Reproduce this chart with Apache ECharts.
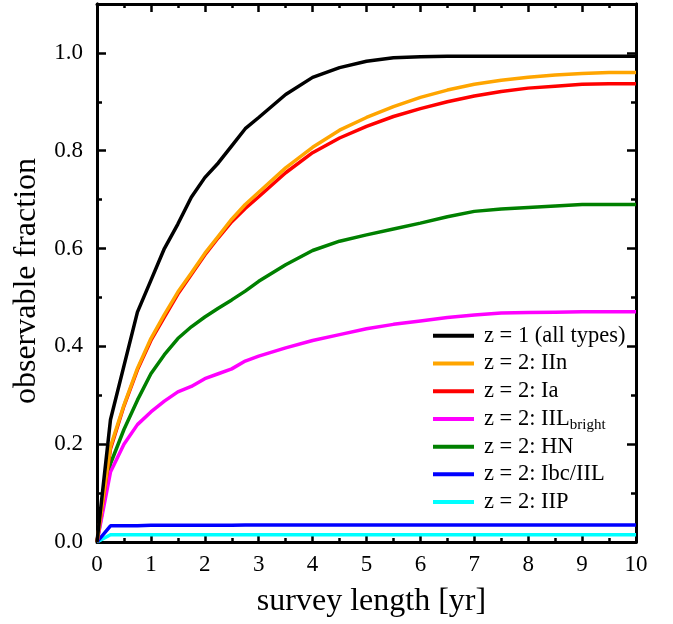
<!DOCTYPE html>
<html><head><meta charset="utf-8">
<script src="https://cdn.jsdelivr.net/npm/echarts@6/dist/echarts.min.js"></script>
<style>html,body{margin:0;padding:0;background:#fff}#c{width:673px;height:624px}</style>
</head><body><div id="c"></div>
<script>
// survey length [yr]
var years = [0, 0.25, 0.5, 0.75, 1, 1.25, 1.5, 1.75, 2, 2.25, 2.5, 2.75, 3, 3.5, 4, 4.5, 5, 5.5, 6, 6.5, 7, 7.5, 8, 8.5, 9, 9.5, 10];
var z1All   = [0, 0.25, 0.36, 0.47, 0.535, 0.60, 0.65, 0.705, 0.745, 0.775, 0.81, 0.845, 0.868, 0.915, 0.95, 0.97, 0.983, 0.99, 0.992, 0.993, 0.993, 0.993, 0.993, 0.993, 0.993, 0.993, 0.993];
var z2IIn   = [0, 0.195, 0.28, 0.355, 0.416, 0.465, 0.511, 0.55, 0.59, 0.625, 0.66, 0.69, 0.715, 0.765, 0.807, 0.842, 0.868, 0.89, 0.909, 0.924, 0.936, 0.944, 0.95, 0.955, 0.958, 0.96, 0.96];
var z2Ia    = [0, 0.19, 0.278, 0.352, 0.412, 0.46, 0.507, 0.547, 0.587, 0.622, 0.655, 0.682, 0.706, 0.755, 0.796, 0.826, 0.85, 0.87, 0.886, 0.9, 0.912, 0.921, 0.928, 0.932, 0.936, 0.937, 0.937];
var z2IILb  = [0, 0.143, 0.2, 0.24, 0.266, 0.288, 0.307, 0.318, 0.334, 0.344, 0.354, 0.37, 0.38, 0.397, 0.412, 0.424, 0.436, 0.445, 0.452, 0.459, 0.464, 0.468, 0.469, 0.47, 0.471, 0.471, 0.471];
var z2HN    = [0, 0.16, 0.23, 0.29, 0.344, 0.383, 0.416, 0.44, 0.46, 0.478, 0.495, 0.513, 0.533, 0.567, 0.596, 0.615, 0.628, 0.64, 0.652, 0.665, 0.676, 0.681, 0.684, 0.687, 0.69, 0.69, 0.69];
var z2IbcIIL= [0, 0.033, 0.033, 0.033, 0.034, 0.034, 0.034, 0.034, 0.034, 0.034, 0.034, 0.035, 0.035, 0.035, 0.035, 0.035, 0.035, 0.035, 0.035, 0.035, 0.035, 0.035, 0.035, 0.035, 0.035, 0.035, 0.035];
var z2IIP   = [0, 0.015, 0.015, 0.015, 0.015, 0.015, 0.015, 0.015, 0.015, 0.015, 0.015, 0.015, 0.015, 0.015, 0.015, 0.015, 0.015, 0.015, 0.015, 0.015, 0.015, 0.015, 0.015, 0.015, 0.015, 0.015, 0.015];
var xTicks = [0, 1, 2, 3, 4, 5, 6, 7, 8, 9, 10];
var yTickLabels = ['0.0', '0.2', '0.4', '0.6', '0.8', '1.0'];

var seriesNames = ['z = 1 (all types)', 'z = 2: IIn', 'z = 2: Ia', 'z = 2: IILbright', 'z = 2: HN', 'z = 2: Ibc/IIL', 'z = 2: IIP'];
var seriesValues = [z1All, z2IIn, z2Ia, z2IILb, z2HN, z2IbcIIL, z2IIP];
var seriesColors = ['#000000', '#FFA500', '#FF0000', '#FF00FF', '#008000', '#0000FF', '#00FFFF'];
var drawOrder = [6, 5, 4, 3, 2, 1, 0];

function pairs(v) { return years.map(function (t, i) { return [t, v[i]]; }); }

var FONT = '"Liberation Serif", "Times New Roman", serif';
var series = drawOrder.map(function (k) {
  return {
    name: seriesNames[k], type: 'line', data: pairs(seriesValues[k]),
    xAxisIndex: 0, yAxisIndex: 0, showSymbol: false, symbol: 'none',
    lineStyle: { color: seriesColors[k], width: 3.5 }, itemStyle: { color: seriesColors[k] },
    z: 3, silent: true, animation: false
  };
});

function xAx(pos, labels) {
  return {
    type: 'value', position: pos, min: 0, max: 10, interval: 1,
    axisLine: { show: true, onZero: false, lineStyle: { color: '#000', width: 3 } },
    axisTick: { show: true, inside: true, length: 8, lineStyle: { color: '#000', width: 2.5 } },
    minorTick: { show: true, splitNumber: 2, length: 4, lineStyle: { color: '#000', width: 2.5 } },
    axisLabel: { show: labels, margin: 11, fontFamily: FONT, fontSize: 23, color: '#000',
      formatter: function (v) { return xTicks.indexOf(v) >= 0 ? String(v) : ''; } },
    splitLine: { show: false },
    name: labels ? 'survey length [yr]' : '', nameLocation: 'middle', nameGap: 44,
    nameTextStyle: { fontFamily: FONT, fontSize: 32, color: '#000', padding: [0, 0, 0, 10] }
  };
}
function yAx(pos, interval, len, labels) {
  return {
    type: 'value', position: pos, min: 0, max: 1.1, interval: interval, offset: 0,
    axisLine: { show: true, onZero: false, lineStyle: { color: '#000', width: 3 } },
    axisTick: { show: true, inside: true, length: len, lineStyle: { color: '#000', width: 2.5 } },
    axisLabel: { show: labels, margin: 14, fontFamily: FONT, fontSize: 23, color: '#000',
      formatter: function (v) { var i = Math.round(v / 0.2); return (Math.abs(v - i * 0.2) < 1e-6 && i < yTickLabels.length) ? yTickLabels[i] : ''; } },
    splitLine: { show: false },
    name: labels ? 'observable fraction' : '', nameLocation: 'middle', nameGap: 54,
    nameTextStyle: { fontFamily: FONT, fontSize: 32, color: '#000', padding: [0, 16, 0, 0] }
  };
}

var chart = echarts.init(document.getElementById('c'), null, { renderer: 'canvas' });
chart.setOption({
  animation: false,
  backgroundColor: '#fff',
  grid: { left: 97, right: 37, top: 4, bottom: 82, containLabel: false },
  xAxis: [xAx('bottom', true), xAx('top', false)],
  yAxis: [yAx('left', 0.2, 9, true), yAx('left', 0.1, 5, false), yAx('right', 0.2, 9, false), yAx('right', 0.1, 5, false)],
  legend: {
    orient: 'vertical', left: 428, top: 317, itemWidth: 41, itemHeight: 4, itemGap: 0,
    icon: 'rect', data: seriesNames, selectedMode: false,
    formatter: function (n) { return n === 'z = 2: IILbright' ? 'z = 2: IIL{sub|bright}' : n; },
    textStyle: { fontFamily: FONT, fontSize: 22.5, color: '#000', lineHeight: 27.7, padding: [0, 0, 0, 5],
      rich: { sub: { fontFamily: FONT, fontSize: 15, color: '#000', lineHeight: 12, verticalAlign: 'bottom' } } }
  },
  series: series
});
</script></body></html>
